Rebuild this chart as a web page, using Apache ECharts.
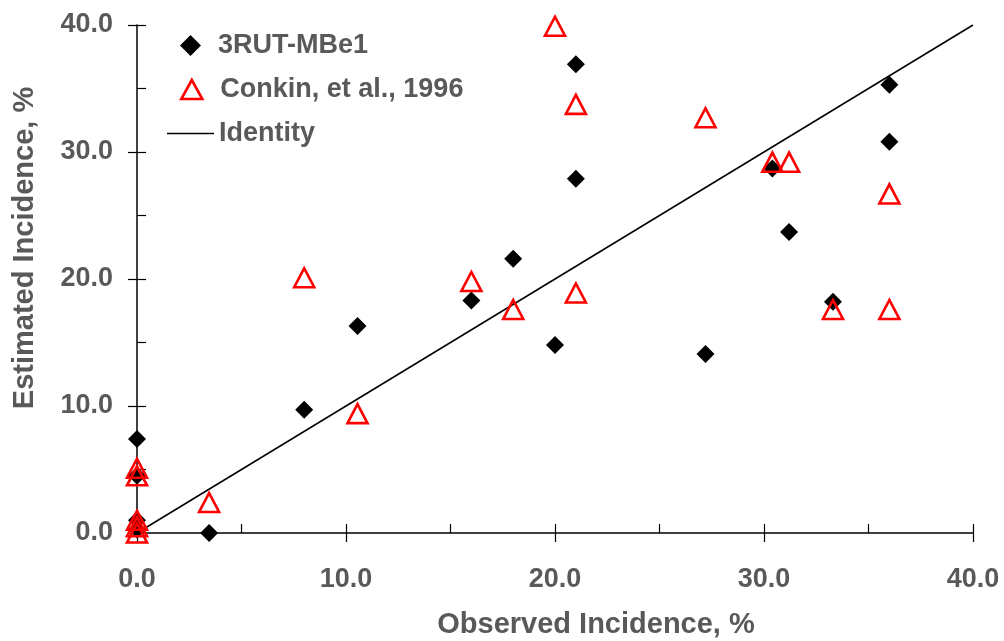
<!DOCTYPE html>
<html>
<head>
<meta charset="utf-8">
<script src="https://cdn.jsdelivr.net/npm/echarts@6/dist/echarts.min.js"></script>
<style>
  html, body { margin: 0; padding: 0; background: #fff; }
  #chart { width: 1004px; height: 641px; }
</style>
</head>
<body>
<div id="chart"></div>
<script>
// Observed vs. estimated incidence (%)
const rutObserved  = [0, 0, 0, 0, 3.45, 8.0, 10.55, 16.0, 18.0, 20.0, 21.0, 21.0, 27.2, 30.4, 31.2, 33.3, 36.0, 36.0];
const rutEstimated = [7.4, 4.5, 1.0, 0.3, 0.0, 9.7, 16.3, 18.3, 21.6, 14.8, 36.9, 27.9, 14.1, 28.7, 23.7, 18.2, 35.3, 30.8];

const conkinObserved  = [0, 0, 0, 0, 0, 3.45, 8.0, 10.55, 16.0, 18.0, 20.0, 21.0, 21.0, 27.2, 30.4, 31.2, 33.3, 36.0, 36.0];
const conkinEstimated = [5.1, 4.5, 1.0, 0.5, 0.0, 2.4, 20.1, 9.4, 19.8, 17.6, 39.9, 33.75, 18.9, 32.7, 29.2, 29.2, 17.6, 26.7, 17.6];

const identityX = [0, 40];
const identityY = [0, 40];

const seriesNames = ['3RUT-MBe1', 'Conkin, et al., 1996', 'Identity'];
const tickLabelFormat = v => v.toFixed(1);

const zip = (xs, ys) => xs.map((x, i) => [x, ys[i]]);

const FONT = '"Liberation Sans", Arial, sans-serif';
const GREY = '#595959';
const RED = '#ff0000';

const chart = echarts.init(document.getElementById('chart'), null, { renderer: 'canvas' });

const labelStyle = { color: GREY, fontFamily: FONT, fontWeight: 'bold', fontSize: 27 };

const mainAxis = {
  min: 0, max: 40, interval: 10,
  axisLine: { show: true, lineStyle: { color: '#000', width: 1.5 } },
  axisTick: { show: true, inside: false, length: 9, lineStyle: { color: '#000', width: 1.2 } },
  splitLine: { show: false }
};
// overlay axis carrying the inward tick marks every 5 units
const innerTickAxis = {
  min: 0, max: 40, interval: 5,
  axisLine: { show: false },
  axisTick: { show: true, inside: true, length: 9, lineStyle: { color: '#000', width: 1.2 } },
  axisLabel: { show: false },
  splitLine: { show: false }
};

// one legend box per entry so each key keeps its own icon shape
const legendText = Object.assign({}, labelStyle, { fontSize: 27 });
function legendEntry(name, top, left, w, h, textPad, extra) {
  return Object.assign({
    orient: 'vertical', left: left, top: top, padding: 0,
    itemWidth: w, itemHeight: h,
    data: [name],
    textStyle: Object.assign({}, legendText, { padding: [0, 0, 0, textPad] })
  }, extra || {});
}

chart.setOption({
  animation: false,
  backgroundColor: '#fff',
  grid: { left: 137, right: 31, top: 25, bottom: 108, containLabel: false },
  xAxis: [
    Object.assign({ type: 'value', position: 'bottom' }, mainAxis,
      { axisLabel: Object.assign({ formatter: tickLabelFormat, margin: 33 }, labelStyle) }),
    Object.assign({ type: 'value', position: 'bottom' }, innerTickAxis)
  ],
  yAxis: [
    Object.assign({ type: 'value', position: 'left' }, mainAxis,
      { axisLabel: Object.assign({ formatter: tickLabelFormat, margin: 24 }, labelStyle) }),
    Object.assign({ type: 'value', position: 'left' }, innerTickAxis)
  ],
  legend: [
    legendEntry(seriesNames[0], 32, 180, 21, 21, 12, { icon: 'diamond' }),
    legendEntry(seriesNames[1], 76, 180, 21, 19, 13, {
      icon: 'triangle',
      itemStyle: { color: 'rgba(0,0,0,0)', borderColor: RED, borderWidth: 2.6 }
    }),
    legendEntry(seriesNames[2], 120, 167, 47, 1.5, 0, {
      icon: 'rect', itemStyle: { color: '#000', borderWidth: 0 }
    })
  ],
  graphic: [
    {
      type: 'text', x: 596, y: 625,
      style: {
        text: 'Observed Incidence, %', fill: GREY,
        font: 'bold 29px ' + FONT, textAlign: 'center', textVerticalAlign: 'middle'
      }
    },
    {
      type: 'text', x: 25, y: 248, rotation: Math.PI / 2,
      style: {
        text: 'Estimated Incidence, %', fill: GREY,
        font: 'bold 29px ' + FONT, textAlign: 'center', textVerticalAlign: 'middle'
      }
    }
  ],
  series: [
    {
      name: seriesNames[2],
      type: 'line',
      data: zip(identityX, identityY),
      symbol: 'none',
      z: 1,
      lineStyle: { color: '#000', width: 1.5 },
      itemStyle: { color: '#000' }
    },
    {
      name: seriesNames[0],
      type: 'scatter',
      data: zip(rutObserved, rutEstimated),
      symbol: 'diamond',
      symbolSize: 18,
      z: 3,
      itemStyle: { color: '#000', opacity: 1 }
    },
    {
      name: seriesNames[1],
      type: 'scatter',
      data: zip(conkinObserved, conkinEstimated),
      symbol: 'triangle',
      symbolSize: [20, 19],
      z: 4,
      itemStyle: { color: 'rgba(0,0,0,0)', borderColor: RED, borderWidth: 2.6, opacity: 1 }
    }
  ]
});
</script>
</body>
</html>
